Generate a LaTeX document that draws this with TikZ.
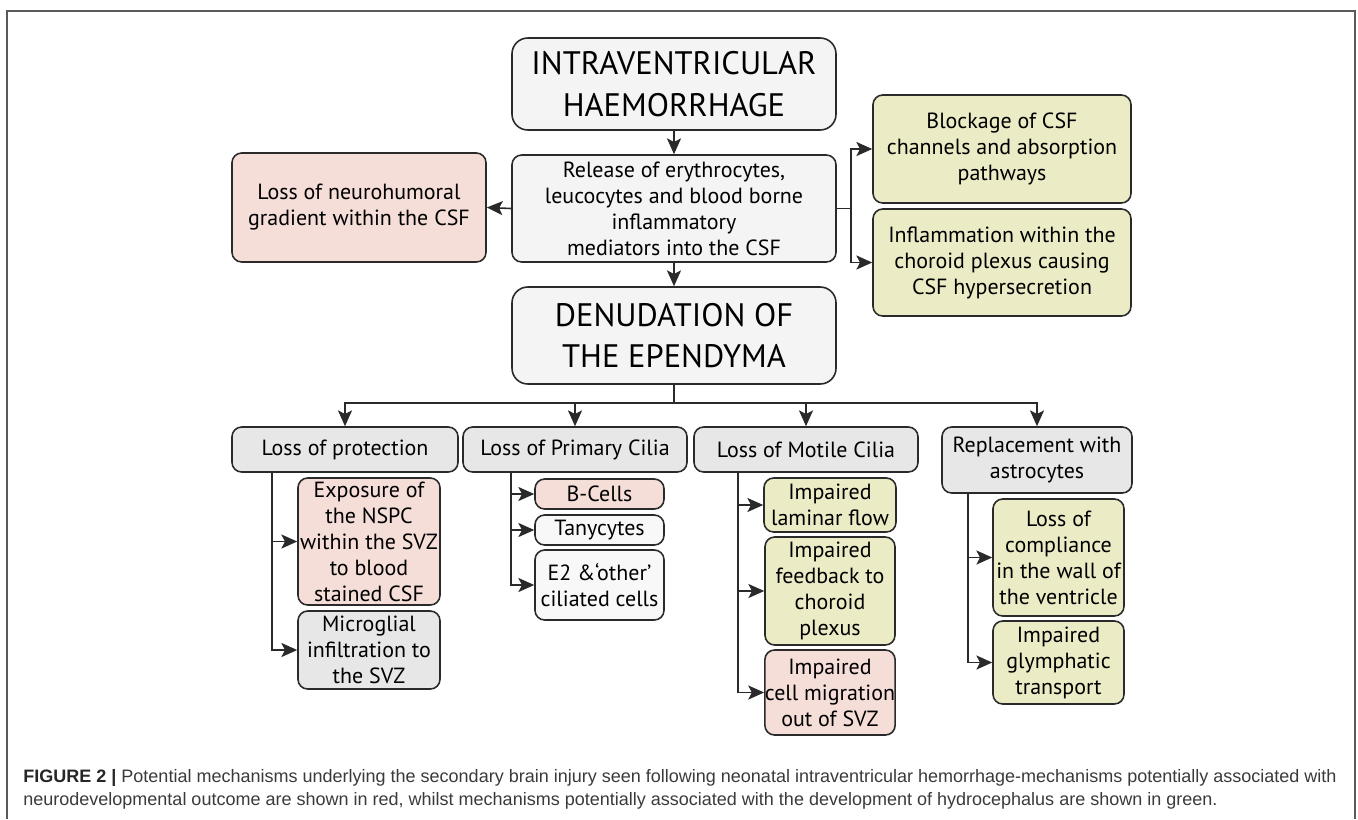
\documentclass[tikz,border=0pt]{standalone}
\usepackage{fontspec}
\setmainfont{PT Sans}
\newfontfamily\capfont{Liberation Sans}
\usepackage{xcolor}
\usetikzlibrary{arrows.meta, positioning, calc}

\definecolor{boxline}{HTML}{2A2A2A}
\definecolor{palegray}{HTML}{F4F4F4}
\definecolor{midgray}{HTML}{E7E7E7}
\definecolor{whitebox}{HTML}{F8F8F8}
\definecolor{redbox}{HTML}{F5DDD8}
\definecolor{greenbox}{HTML}{EBEBC6}
\definecolor{captext}{HTML}{3A3A3A}
\definecolor{framecol}{HTML}{5A5A5A}

\begin{document}
\begin{tikzpicture}[
    x=0.02cm, y=-0.02cm,
    box/.style={rectangle, rounded corners=5.5pt, draw=boxline, line width=0.9pt, inner sep=0pt, align=center, font=\fontsize{12.5}{14.8}\selectfont},
    bigbox/.style={box, rounded corners=9pt, fill=palegray, font=\fontsize{18.5}{23.5}\selectfont},
    sz/.style 2 args={minimum width=#1*0.02cm, minimum height=#2*0.02cm},
    arrow/.style={-{Stealth[length=9pt, width=8pt, inset=2pt]}, line width=0.9pt, draw=boxline},
]
\useasboundingbox (0,0) rectangle (1358,819);

% Frame
\draw[framecol, line width=0.9pt] (7,819) -- (7,11) -- (1355,11) -- (1355,819);

% Top of the chart
\node[bigbox, sz={324}{92}] (ivh) at (674,84) {INTRAVENTRICULAR\\HAEMORRHAGE};
\node[box, fill=palegray, sz={324}{107}] (release) at (674,208.5) {Release of erythrocytes,\\leucocytes and blood borne\\inflammatory\\mediators into the CSF};
\node[box, fill=redbox, sz={254}{109}] (neuro) at (359,207.5) {Loss of neurohumoral\\gradient within the CSF};
\node[box, fill=greenbox, sz={258}{108}] (block) at (1002,149) {Blockage of CSF\\channels and absorption\\pathways};
\node[box, fill=greenbox, sz={258}{107}] (inflam) at (1002,262.5) {Inflammation within the\\choroid plexus causing\\CSF hypersecretion};
\node[bigbox, sz={324}{97}] (denud) at (674,335.5) {DENUDATION OF\\THE EPENDYMA};

% Four consequences
\node[box, fill=midgray, sz={226}{45}] (prot) at (345,449.5) {Loss of protection};
\node[box, fill=midgray, sz={224}{45}] (prim) at (575,449.5) {Loss of Primary Cilia};
\node[box, fill=midgray, sz={224}{45}] (motile) at (806,449.5) {Loss of Motile Cilia};
\node[box, fill=midgray, sz={190}{66}] (astro) at (1037,460) {Replacement with\\astrocytes};

% Effects
\node[box, fill=redbox, sz={142}{127}] (expo) at (369,541.5) {Exposure of\\the NSPC\\within the SVZ\\to blood\\stained CSF};
\node[box, fill=midgray, sz={142}{78}] (micro) at (369,650) {Microglial\\infiltration to\\the SVZ};
\node[box, fill=redbox, sz={129}{30}] (bcell) at (599.5,494) {B-Cells};
\node[box, fill=whitebox, sz={129}{30}] (tany) at (599.5,530) {Tanycytes};
\node[box, fill=whitebox, sz={129}{70}] (etwo) at (599.5,585) {E2 \&‘other’\\ciliated cells};
\node[box, fill=greenbox, sz={132}{54}] (laminar) at (830,505) {Impaired\\laminar flow};
\node[box, fill=greenbox, sz={130}{108}] (feedback) at (830,591) {Impaired\\feedback to\\choroid\\plexus};
\node[box, fill=redbox, sz={128}{85}] (migr) at (830,692.5) {Impaired\\cell migration\\out of SVZ};
\node[box, fill=greenbox, sz={131}{117}] (compl) at (1058.5,557.5) {Loss of\\compliance\\in the wall of\\the ventricle};
\node[box, fill=greenbox, sz={131}{83}] (glym) at (1058.5,662.5) {Impaired\\glymphatic\\transport};

% Arrows
\draw[arrow] (ivh.south) -- (release.north);
\draw[arrow] (release.south) -- (denud.north);
\draw[arrow] (release.west) -- (neuro.east);
\draw[arrow, -] (release.east) -- ++(14,0) coordinate (split);
\draw[arrow] (split) |- (block.west);
\draw[arrow] (split) |- (inflam.west);
\draw[arrow, -] (denud.south) -- ++(0,18) coordinate (bus);
\foreach \n in {prot,prim,motile,astro}
    \draw[arrow] (bus) -| (\n.north);
\foreach \t in {expo,micro}
    \draw[arrow] ($(prot.south west)+(41,0)$) |- (\t.west);
\foreach \t in {bcell,tany,etwo}
    \draw[arrow] ($(prim.south west)+(49,0)$) |- (\t.west);
\foreach \t in {laminar,feedback,migr}
    \draw[arrow] ($(motile.south west)+(45,0)$) |- (\t.west);
\foreach \t in {compl,glym}
    \draw[arrow] ($(astro.south west)+(27,0)$) |- (\t.west);

% Caption
\node[anchor=base west, inner sep=0pt, align=left, text=captext, font=\capfont\fontsize{10.25}{12.6}\selectfont] (caption) at (23,805)
    {{\bfseries\color{black!85}FIGURE 2 |} Potential mechanisms underlying the secondary brain injury seen following neonatal intraventricular hemorrhage-mechanisms potentially associated with\\neurodevelopmental outcome are shown in red, whilst mechanisms potentially associated with the development of hydrocephalus are shown in green.};

\end{tikzpicture}
\end{document}
